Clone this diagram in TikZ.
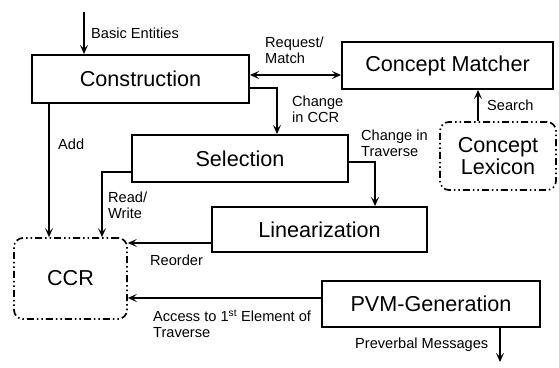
\documentclass[tikz,border=0pt]{standalone}
\usepackage{fontspec}
\setmainfont{Liberation Sans}
\usetikzlibrary{arrows.meta}
\tikzset{
  boxnode/.style={draw, line width=2pt, inner sep=0pt, font=\fontsize{21.6}{24}\selectfont},
  dashbox/.style={draw, line width=1.7pt, rounded corners=9pt, inner sep=0pt,
    dash pattern=on 7pt off 3pt on 1.5pt off 3pt on 1.5pt off 3pt,
    font=\fontsize{21.6}{24}\selectfont, align=center},
  arr/.style={line width=2pt, -{Stealth[length=9pt,width=8pt,inset=4pt]}},
  darr/.style={line width=2pt, {Stealth[length=9pt,width=8pt,inset=4pt]}-{Stealth[length=9pt,width=8pt,inset=4pt]}},
  lbl/.style={anchor=west, inner sep=0pt, align=left, font=\fontsize{14.6}{15.8}\selectfont},
}
\begin{document}
\begin{tikzpicture}[x=1pt,y=-1pt]
\useasboundingbox (0,0) rectangle (559,367);
% boxes
\node[boxnode, minimum width=217pt, minimum height=48pt] (constr) at (140.5,79) {Construction};
\node[boxnode, minimum width=211pt, minimum height=47pt] (cm) at (447.5,65.5) {Concept Matcher};
\node[boxnode, minimum width=216pt, minimum height=47pt] (sel) at (240,158.5) {Selection};
\node[boxnode, minimum width=215pt, minimum height=45pt] (lin) at (319.5,229.5) {Linearization};
\node[boxnode, minimum width=218pt, minimum height=46pt] (pvm) at (431,304) {PVM-Generation};
\node[dashbox, minimum width=113pt, minimum height=81pt] (ccr) at (70.5,278.5) {CCR};
\node[dashbox, minimum width=116pt, minimum height=68pt] (lex) at (498,156) {Concept\\[-2pt]Lexicon};
% coordinates
\coordinate (be) at (84,12);
\coordinate (rm) at (300,75);
\coordinate (c1) at (277,88);
\coordinate (a1) at (49,150);
\coordinate (r1) at (102,172);
\coordinate (t1) at (375,162);
\coordinate (s1) at (478,110);
\coordinate (o1) at (200,243);
\coordinate (p1) at (200,298);
\coordinate (v1) at (500,362);
% connectors
\draw[arr] (be) -- (be |- constr.north);
\draw[darr] (rm -| constr.east) -- (rm -| cm.west);
\draw[arr] (c1 -| constr.east) -- (c1) -- (c1 |- sel.north);
\draw[arr] (a1 |- constr.south) -- (a1 |- ccr.north);
\draw[arr] (r1 -| sel.west) -- (r1) -- (r1 |- ccr.north);
\draw[arr] (t1 -| sel.east) -- (t1) -- (t1 |- lin.north);
\draw[arr] (s1 |- lex.north) -- (s1 |- cm.south);
\draw[arr] (o1 -| lin.west) -- (o1 -| ccr.east);
\draw[arr] (p1 -| pvm.west) -- (p1 -| ccr.east);
\draw[arr] (v1 |- pvm.south) -- (v1);
% labels
\node[lbl] (lbe) at (91,33) {Basic Entities};
\node[lbl] (lrm) at (265,50) {Request/\\Match};
\node[lbl] (lc1) at (292,109) {Change\\in CCR};
\node[lbl] (ladd) at (58,144) {Add};
\node[lbl] (lrw) at (108,205) {Read/\\Write};
\node[lbl] (lt1) at (361,143) {Change in\\Traverse};
\node[lbl] (ls1) at (487,105) {Search};
\node[lbl] (lo1) at (150,260) {Reorder};
\node[lbl] (lp1) at (153,324) {Access to 1\textsuperscript{st} Element of\\Traverse};
\node[lbl] (lv1) at (355,345) {Preverbal Messages};
\end{tikzpicture}
\end{document}
